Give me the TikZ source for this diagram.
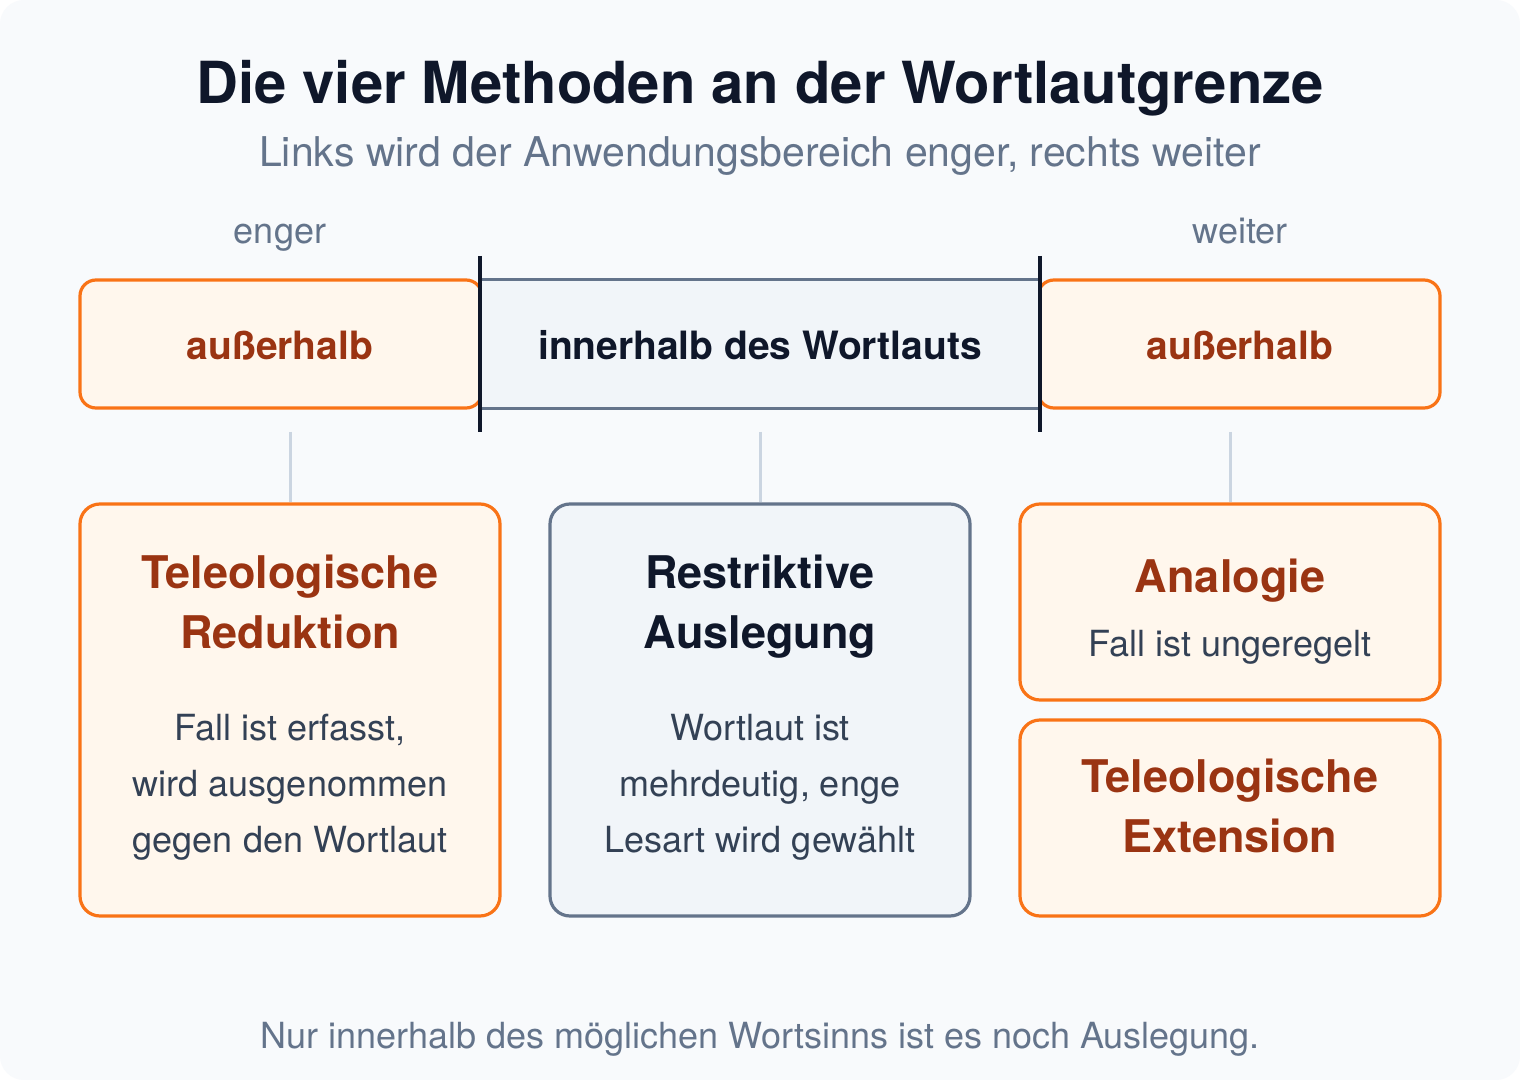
\documentclass[tikz,border=0pt]{standalone}
\usepackage{fontspec}
\setmainfont{TeX Gyre Heros}
\usepackage{xcolor}
\usepackage{tikz}
\usetikzlibrary{positioning}

\definecolor{bgc}{HTML}{F8FAFC}
\definecolor{ink}{HTML}{0F172A}
\definecolor{slate}{HTML}{64748B}
\definecolor{bodyc}{HTML}{334155}
\definecolor{orline}{HTML}{F97316}
\definecolor{orfill}{HTML}{FFF7ED}
\definecolor{ortext}{HTML}{9A3412}
\definecolor{grfill}{HTML}{F1F5F9}
\definecolor{linkc}{HTML}{CBD5E1}

\tikzset{
  obox/.style={draw=orline, fill=orfill, line width=1.6pt, rounded corners=8pt, inner sep=0pt},
  gbox/.style={draw=slate, fill=grfill, line width=1.6pt, rounded corners=10pt, inner sep=0pt},
  link/.style={draw=linkc, line width=1.5pt},
  bar/.style={draw=ink, line width=2pt},
  headtext/.style={font=\bfseries\fontsize{22.5}{30}\selectfont, align=center, anchor=base, inner sep=0pt},
  bodytext/.style={font=\fontsize{18}{28}\selectfont, text=bodyc, align=center, anchor=base, inner sep=0pt},
  zonetext/.style={font=\bfseries\fontsize{19.5}{24}\selectfont, anchor=base, inner sep=0pt},
  sidetext/.style={font=\fontsize{18}{22}\selectfont, text=slate, anchor=base, inner sep=0pt}
}

\begin{document}
\begin{tikzpicture}[x=0.5pt,y=-0.5pt]

\fill[white] (0,0) rectangle (1520,1080);
\fill[bgc,rounded corners=12pt] (0,0) rectangle (1520,1080);
\useasboundingbox (0,0) rectangle (1520,1080);

% title
\node[font=\bfseries\fontsize{29}{34}\selectfont, text=ink, anchor=base, inner sep=0pt] (title) at (760,104) {Die vier Methoden an der Wortlautgrenze};
\node[font=\fontsize{20.5}{24}\selectfont, text=slate, anchor=base, inner sep=0pt] (subtitle) at (760,167) {Links wird der Anwendungsbereich enger, rechts weiter};

% scale
\node[sidetext] (enger) at (280,244) {enger};
\node[sidetext] (weiter) at (1240,244) {weiter};

\node[obox, minimum width=201pt, minimum height=64pt] (lout) at (281,344) {};% left outside
\node[obox, minimum width=201pt, minimum height=64pt] (rout) at (1239,344) {};% right outside
\node[fill=grfill, minimum width=280pt, minimum height=64pt, inner sep=0pt] (band) at (760,344) {};
\draw[slate, line width=1.6pt] (band.north west) -- (band.north east);
\draw[slate, line width=1.6pt] (band.south west) -- (band.south east);
\draw[bar] (480,256) -- (480,432);% left limit
\draw[bar] (1040,256) -- (1040,432);% right limit

\node[zonetext, text=ortext] (laus) at (280,360) {außerhalb};
\node[zonetext, text=ink] (inner) at (760,360) {innerhalb des Wortlauts};
\node[zonetext, text=ortext] (raus) at (1240,360) {außerhalb};

% methods
\node[obox, rounded corners=10pt, minimum width=210pt, minimum height=206pt] (reduk) at (290,710) {};
\node[gbox, minimum width=210pt, minimum height=206pt] (restr) at (760,710) {};
\node[obox, rounded corners=10pt, minimum width=210pt, minimum height=98pt] (analog) at (1230,602) {};
\node[obox, rounded corners=10pt, minimum width=210pt, minimum height=98pt] (exten) at (1230,818) {};

\coordinate (lc) at (290,432);
\coordinate (mc) at (760,432);
\coordinate (rc) at (1230,432);
\draw[link] (lc) -- (reduk.north);
\draw[link] (mc) -- (restr.north);
\draw[link] (rc) -- (analog.north);

% base = last line
\node[headtext, text=ortext] (redukhead) at (290,648) {Teleologische\\Reduktion};
\node[bodytext] (redukbody) at (290,852) {Fall ist erfasst,\\wird ausgenommen\\gegen den Wortlaut};

\node[headtext, text=ink] (restrhead) at (760,648) {Restriktive\\Auslegung};
\node[bodytext] (restrbody) at (760,852) {Wortlaut ist\\mehrdeutig, enge\\Lesart wird gewählt};

\node[headtext, text=ortext] (analoghead) at (1230,592) {Analogie};
\node[bodytext] (analogbody) at (1230,656) {Fall ist ungeregelt};

\node[headtext, text=ortext] (extenhead) at (1230,852) {Teleologische\\Extension};

% footer
\node[font=\fontsize{18}{22}\selectfont, text=slate, anchor=base, inner sep=0pt] (foot) at (760,1048) {Nur innerhalb des möglichen Wortsinns ist es noch Auslegung.};

\end{tikzpicture}
\end{document}
